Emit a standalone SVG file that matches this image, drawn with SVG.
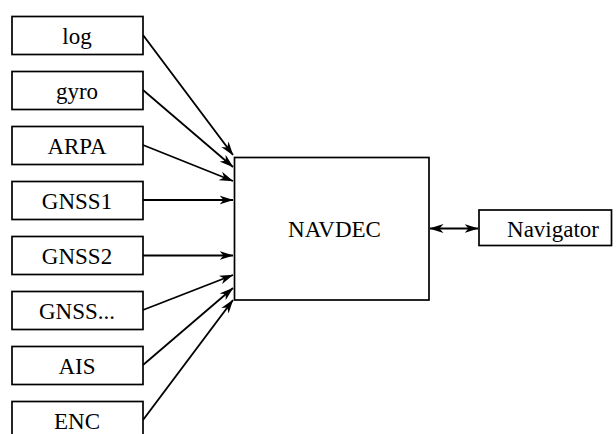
<svg xmlns="http://www.w3.org/2000/svg" width="616" height="434" viewBox="0 0 616 434">
<style>
.box{fill:#fff;stroke:#000;stroke-width:1.7}
text{font-family:"Liberation Serif","Times New Roman",serif;font-size:23px;fill:#000;text-anchor:middle}
.c{stroke:#000;stroke-width:1.8;fill:none}
</style>
<defs>
<marker id="ah" markerUnits="userSpaceOnUse" markerWidth="14" markerHeight="10" refX="13.5" refY="5" orient="auto-start-reverse" viewBox="0 0 14 10">
<path d="M0,0.5 L14,5 L0,9.5 L4,5 z" fill="#000"/>
</marker>
</defs>
<rect width="616" height="434" fill="#fff"/>
<g id="connectors">
<line class="c" x1="143" y1="35" x2="233" y2="155" marker-end="url(#ah)"/>
<line class="c" x1="143" y1="90" x2="233" y2="167" marker-end="url(#ah)"/>
<line class="c" x1="143" y1="145" x2="233" y2="181" marker-end="url(#ah)"/>
<line class="c" x1="143" y1="200" x2="233" y2="200" marker-end="url(#ah)"/>
<line class="c" x1="143" y1="255.5" x2="233" y2="255.5" marker-end="url(#ah)"/>
<line class="c" x1="143" y1="310" x2="233" y2="275" marker-end="url(#ah)"/>
<line class="c" x1="143" y1="365" x2="233" y2="288" marker-end="url(#ah)"/>
<line class="c" x1="143" y1="420" x2="233" y2="300" marker-end="url(#ah)"/>
<line class="c" x1="430" y1="228.5" x2="478" y2="228.5" marker-start="url(#ah)" marker-end="url(#ah)"/>
</g>
<g id="log"><rect class="box" x="12" y="16.5" width="131" height="38"/><text x="77" y="43.5">log</text></g>
<g id="gyro"><rect class="box" x="12" y="71.5" width="131" height="38"/><text x="77" y="98.5">gyro</text></g>
<g id="arpa"><rect class="box" x="12" y="126.5" width="131" height="38"/><text x="77" y="153.5">ARPA</text></g>
<g id="gnss1"><rect class="box" x="12" y="181.5" width="131" height="38"/><text x="77" y="208.5">GNSS1</text></g>
<g id="gnss2"><rect class="box" x="12" y="236.5" width="131" height="38"/><text x="77" y="263.5">GNSS2</text></g>
<g id="gnssn"><rect class="box" x="12" y="291.5" width="131" height="38"/><text x="77" y="318.5">GNSS...</text></g>
<g id="ais"><rect class="box" x="12" y="346.5" width="131" height="38"/><text x="77" y="373.5">AIS</text></g>
<g id="enc"><rect class="box" x="12" y="401.5" width="131" height="38"/><text x="77" y="428.5">ENC</text></g>
<g id="navdec"><rect class="box" x="234.5" y="157.5" width="194.5" height="142.5"/><text x="334.5" y="236.7">NAVDEC</text></g>
<g id="navigator"><rect class="box" x="479" y="210" width="132.5" height="35.5"/><text x="553" y="236.5" font-size="23.5">Navigator</text></g>
</svg>
